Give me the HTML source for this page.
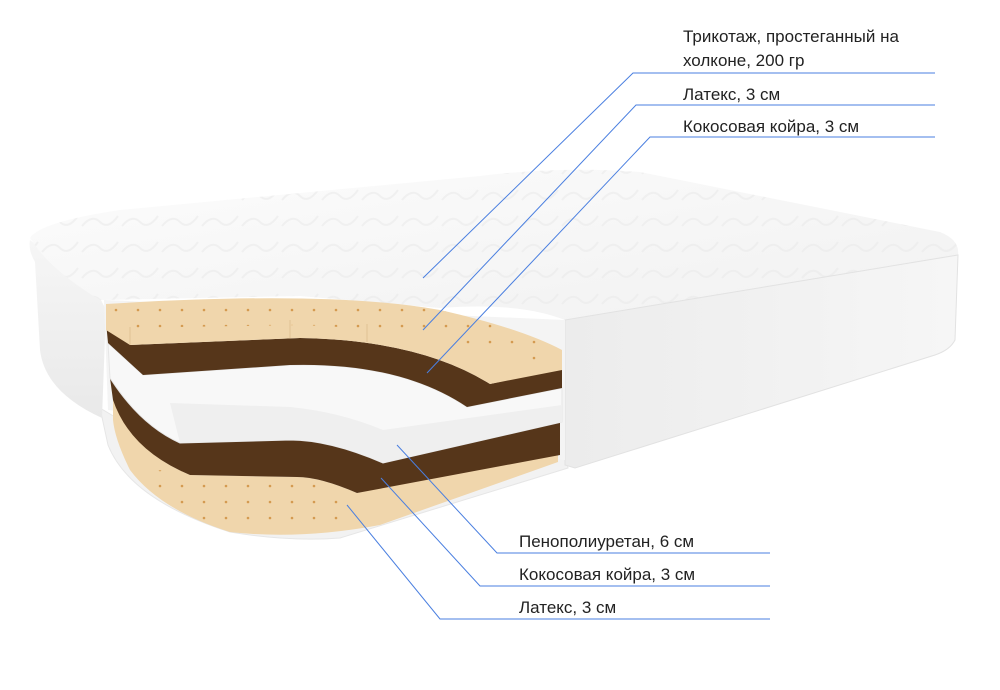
<!DOCTYPE html>
<html><head><meta charset="utf-8"><style>
html,body{margin:0;padding:0;background:#fff;}
svg{display:block}
text{font-family:"Liberation Sans",sans-serif;font-size:17px;fill:#222;}
</style></head><body>
<svg width="1000" height="690" viewBox="0 0 1000 690" xmlns="http://www.w3.org/2000/svg">
<defs>
<linearGradient id="side" x1="0" y1="0" x2="0" y2="1"><stop offset="0" stop-color="#f6f6f6"/><stop offset="1" stop-color="#e9e9e9"/></linearGradient>
<linearGradient id="rside" x1="0" y1="0" x2="1" y2="0"><stop offset="0" stop-color="#ececec"/><stop offset="1" stop-color="#f6f6f6"/></linearGradient>
<linearGradient id="top" x1="0" y1="0" x2="1" y2="1"><stop offset="0" stop-color="#fcfcfc"/><stop offset="1" stop-color="#f1f1f1"/></linearGradient>
<pattern id="dots" width="22" height="16" patternUnits="userSpaceOnUse"><circle cx="6" cy="6" r="1.3" fill="#d49a50"/></pattern>
<pattern id="quilt" width="40" height="26" patternUnits="userSpaceOnUse"><path d="M2 18 q10 -12 18 -4 t18 -6" fill="none" stroke="#e6e6e6" stroke-width="2"/></pattern>
</defs>
<!-- base / bottom -->
<path d="M100 408 L108 445 Q130 500 230 532 Q290 542 340 538 L568 468 L565 450 L120 420 Z" fill="#f2f2f2" stroke="#e6e6e6"/>
<!-- left side -->
<path d="M30 240 Q28 250 35 262 L40 350 Q45 392 102 418 L106 310 L100 298 Z" fill="url(#side)"/>
<!-- top surface -->
<path d="M30 238 Q40 222 120 210 L480 176 Q560 166 640 172 L940 232 Q960 240 958 255 L565 320 Q520 302 440 308 L300 296 L100 300 Q50 270 30 238 Z" fill="url(#top)"/>
<path d="M30 238 Q40 222 120 210 L480 176 Q560 166 640 172 L940 232 Q960 240 958 255 L565 320 Q520 302 440 308 L300 296 L100 300 Q50 270 30 238 Z" fill="url(#quilt)" opacity="0.45"/>
<!-- right side -->
<path d="M565 320 L958 255 L955 340 Q950 350 935 355 L575 468 L565 465 Z" fill="url(#rside)" stroke="#e2e2e2"/>
<!-- cutout back wall -->
<path d="M104 300 L565 320 L565 460 L108 410 Z" fill="#f4f4f4"/>
<!-- bottom latex -->
<path d="M113 398 Q130 450 190 475 L297 477 Q320 477 357 493 L558 450 L558 462 L380 525 Q300 540 230 532 Q160 510 130 470 Q115 440 113 420 Z" fill="#f0d6ac"/>
<path d="M140 470 Q200 470 297 480 L357 496 L340 525 Q280 535 230 530 Q170 512 140 470 Z" fill="url(#dots)"/>
<!-- coir 2 -->
<path d="M110 378 Q140 425 180 443 L290 440 Q330 440 383 463 L560 422 L560 455 L357 493 Q320 477 297 477 L190 475 Q130 450 113 400 Z" fill="#56361a"/>
<!-- white foam -->
<path d="M108 343 L143 375 L290 365 Q400 362 467 407 L562 388 L562 422 L383 463 Q330 440 290 440 L180 443 Q140 425 110 378 Z" fill="#f8f8f8" stroke="#e6e6e6"/>
<path d="M170 403 L290 407 Q340 412 383 430 L562 405 L562 422 L383 463 Q330 440 290 440 L180 443 Z" fill="#efefef"/>
<!-- coir 1 -->
<path d="M106 322 L130 345 L300 338 Q420 340 490 384 L562 368 L562 388 L467 407 Q400 362 290 365 L143 375 L108 343 Z" fill="#56361a"/>
<!-- top latex -->
<path d="M106 304 Q330 290 440 310 Q520 328 562 350 L562 370 L490 384 Q420 340 300 338 L130 345 L106 330 Z" fill="#f0d6ac"/>
<path d="M106 304 Q330 290 440 310 Q520 328 562 350 L540 362 Q440 330 300 325 L120 328 Z" fill="url(#dots)"/>
<g stroke="#e0c194" stroke-width="1"><line x1="130" y1="327" x2="130" y2="345"/><line x1="290" y1="320" x2="290" y2="338"/><line x1="367" y1="324" x2="367" y2="342"/></g>
<!-- leader lines -->
<g stroke="#4a7fe0" stroke-width="1" fill="none">
<polyline points="423,278 633,73 935,73"/>
<polyline points="423,330 636,105 935,105"/>
<polyline points="427,373 650,137 935,137"/>
<polyline points="397,445 497,553 770,553"/>
<polyline points="381,478 480,586 770,586"/>
<polyline points="347,505 440,619 770,619"/>
</g>
<text x="683" y="42">Трикотаж, простеганный на</text>
<text x="683" y="66">холконе, 200 гр</text>
<text x="683" y="100">Латекс, 3 см</text>
<text x="683" y="132">Кокосовая койра, 3 см</text>
<text x="519" y="547">Пенополиуретан, 6 см</text>
<text x="519" y="580">Кокосовая койра, 3 см</text>
<text x="519" y="613">Латекс, 3 см</text>
</svg>
</body></html>
